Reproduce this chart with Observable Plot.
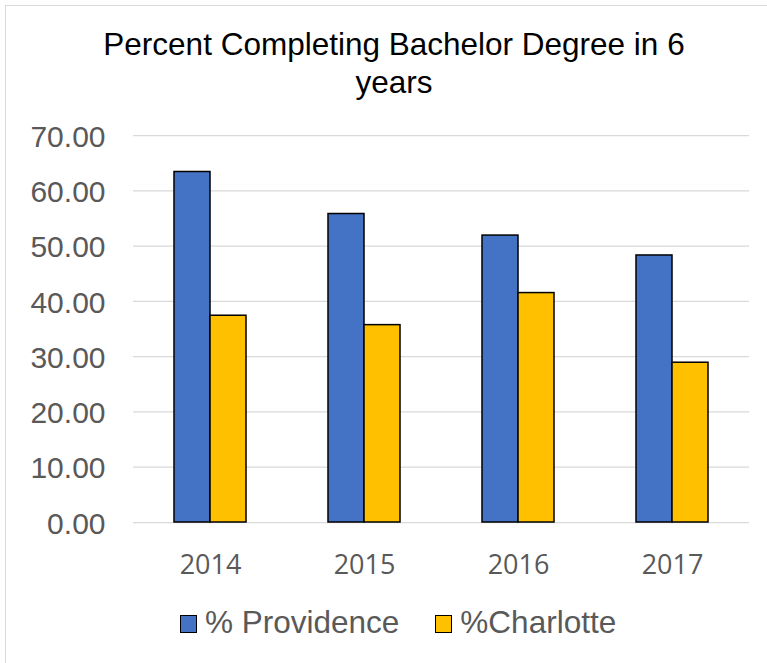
<!DOCTYPE html>
<html>
<head>
<meta charset="utf-8">
<script src="https://cdn.jsdelivr.net/npm/d3@7"></script>
<script src="https://cdn.jsdelivr.net/npm/@observablehq/plot@0.6"></script>
<style>
  html, body { margin: 0; padding: 0; background: #fff; }
  body { width: 767px; height: 663px; position: relative; overflow: hidden; font-family: "Liberation Sans", Arial, sans-serif; }
  #frame { position: absolute; left: 5px; top: 5px; width: 900px; height: 900px; border-top: 1px solid #d9d9d9; border-left: 1px solid #d9d9d9; box-sizing: border-box; }
  #title { position: absolute; left: 0; top: 26px; width: 788px; text-align: center; font-size: 31.5px; line-height: 37.6px; color: #000; }
  #chart { position: absolute; left: 0; top: 100px; }
  #legend { position: absolute; left: 180px; top: 607px; display: flex; gap: 36px; font-size: 31.5px; line-height: 31px; color: #595959; white-space: nowrap; }
  .item { display: flex; align-items: flex-start; gap: 8px; }
  .sw { width: 17px; height: 18px; box-sizing: border-box; border: 1.5px solid #000; margin-top: 8px; }
</style>
</head>
<body>
<div id="frame"></div>
<div id="title">Percent Completing Bachelor Degree in 6<br>years</div>
<div id="chart"></div>
<div id="legend"></div>
<script>
const years = ["2014", "2015", "2016", "2017"];
const seriesNames = ["% Providence", "%Charlotte"];
const providence = [63.4, 55.8, 51.9, 48.3];
const charlotte = [37.4, 35.7, 41.5, 28.9];
const colors = ["#4472C4", "#FFC000"];
const yTicks = [0, 10, 20, 30, 40, 50, 60, 70];

const data = years.flatMap((y, i) => [
  {year: y, series: seriesNames[0], value: providence[i]},
  {year: y, series: seriesNames[1], value: charlotte[i]}
]);

const chart = Plot.plot({
  width: 767,
  height: 510,
  marginTop: 35,
  marginBottom: 88,
  marginLeft: 132,
  marginRight: 17,
  style: {fontFamily: "'Liberation Sans', Arial, sans-serif", background: "transparent", overflow: "visible"},
  fx: {domain: years, padding: 0, label: null},
  x: {domain: seriesNames, paddingInner: 0, paddingOuter: 1.088, axis: null},
  y: {domain: [0, 70], axis: null},
  color: {domain: seriesNames, range: colors},
  marks: [
    Plot.ruleY(yTicks, {y: d => d, stroke: "#d9d9d9", strokeWidth: 1.25}),
    Plot.barY(data, {fx: "year", x: "series", y: "value", fill: "series", stroke: "#000", strokeWidth: 1.5}),
    Plot.axisY(yTicks, {
      tickSize: 0, tickPadding: 28, tickFormat: d3.format(".2f"),
      fontSize: 30, fill: "#595959", dy: 1.6, label: null
    }),
    Plot.axisFx({
      anchor: "bottom", tickSize: 0, tickPadding: 32,
      fontSize: 27, fontFamily: "'Open Sans', sans-serif", fill: "#595959", label: null
    })
  ]
});
document.getElementById("chart").appendChild(chart);

const legend = document.getElementById("legend");
seriesNames.forEach((name, i) => {
  const item = document.createElement("div");
  item.className = "item";
  const sw = document.createElement("div");
  sw.className = "sw";
  sw.style.background = colors[i];
  const label = document.createElement("span");
  label.textContent = name;
  item.appendChild(sw);
  item.appendChild(label);
  legend.appendChild(item);
});
</script>
</body>
</html>
